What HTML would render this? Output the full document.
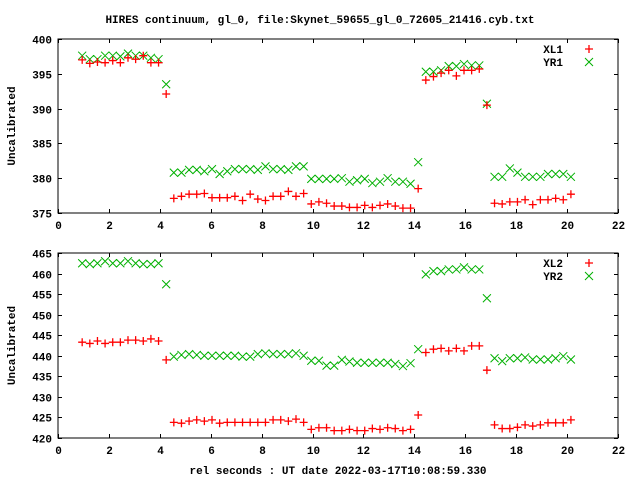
<!DOCTYPE html>
<html><head><meta charset="utf-8"><style>
html,body{margin:0;padding:0;background:#fff}
svg{display:block}
text{font-family:"Liberation Mono",monospace;font-size:11px;font-weight:bold;fill:#000}
</style></head><body>
<svg id="chart" width="640" height="480" xmlns="http://www.w3.org/2000/svg">
<text x="320" y="23" text-anchor="middle">HIRES continuum, gl_0, file:Skynet_59655_gl_0_72605_21416.cyb.txt</text>
<text x="338" y="474" text-anchor="middle">rel seconds : UT date 2022-03-17T10:08:59.330</text>
<g id="top"></g>
<g id="bot"></g>
</svg>
<script>
const xs=[0.95,1.25,1.55,1.85,2.15,2.45,2.75,3.05,3.35,3.65,3.95,4.25,4.55,4.85,5.15,5.45,5.75,6.05,6.35,6.65,6.95,7.25,7.55,7.85,8.15,8.45,8.75,9.05,9.35,9.65,9.95,10.25,10.55,10.85,11.15,11.45,11.75,12.05,12.35,12.65,12.95,13.25,13.55,13.85,14.15,14.45,14.75,15.05,15.35,15.65,15.95,16.25,16.55,16.85,17.15,17.45,17.75,18.05,18.35,18.65,18.95,19.25,19.55,19.85,20.15];
const xl1=[397.0,396.5,396.7,396.6,396.9,396.6,397.3,397.1,397.6,396.6,396.6,392.1,377.1,377.4,377.7,377.7,377.8,377.2,377.2,377.2,377.4,376.8,377.7,377.0,376.8,377.4,377.4,378.1,377.4,377.8,376.3,376.6,376.4,376.0,376.0,375.8,375.8,376.1,375.8,376.1,376.3,376.0,375.7,375.7,378.5,394.1,394.6,395.1,395.5,394.7,395.5,395.5,395.7,390.5,376.4,376.3,376.6,376.6,376.9,376.2,376.9,376.9,377.1,376.9,377.7];
const yr1=[397.6,397.1,397.1,397.6,397.6,397.5,397.9,397.6,397.6,397.3,397.1,393.5,380.8,380.8,381.2,381.2,381.0,381.3,380.6,381.0,381.3,381.3,381.3,381.2,381.7,381.3,381.3,381.2,381.7,381.7,379.9,379.9,379.9,379.9,380.0,379.5,379.7,379.9,379.3,379.5,380.0,379.5,379.5,379.2,382.3,395.3,395.3,395.5,396.1,396.1,396.4,396.2,396.2,390.7,380.2,380.2,381.4,380.8,380.2,380.2,380.2,380.6,380.6,380.6,380.2];
const xl2=[443.3,443.0,443.6,443.0,443.3,443.3,443.8,443.8,443.6,444.1,443.6,439.0,423.8,423.6,424.1,424.4,424.1,424.4,423.6,423.8,423.8,423.8,423.8,423.8,423.8,424.4,424.4,424.1,424.6,423.8,422.1,422.5,422.5,421.8,421.8,422.1,421.8,421.8,422.3,422.1,422.5,422.3,421.8,422.1,425.6,440.8,441.6,441.8,441.2,441.8,441.2,442.4,442.4,436.5,423.2,422.3,422.3,422.6,423.2,422.9,423.2,423.7,423.7,423.7,424.4];
const yr2=[462.5,462.3,462.5,463.0,462.5,462.5,463.0,462.5,462.3,462.3,462.5,457.4,439.8,440.2,440.4,440.2,440.0,440.0,440.0,440.0,440.0,439.8,439.8,440.4,440.6,440.4,440.4,440.4,440.6,440.0,438.8,438.8,437.6,437.6,439.0,438.6,438.3,438.3,438.3,438.3,438.3,438.0,437.5,438.2,441.6,459.8,460.6,460.6,461.0,461.0,461.5,461.0,461.0,454.0,439.4,438.7,439.4,439.4,439.6,439.1,439.1,439.1,439.4,439.9,439.1];
const xTicks=[0,2,4,6,8,10,12,14,16,18,20,22];
const topTicks=[375,380,385,390,395,400];
const botTicks=[420,425,430,435,440,445,450,455,460,465];
const NS="http://www.w3.org/2000/svg";
function mk(p,tag,at){const e=document.createElementNS(NS,tag);for(const k in at)e.setAttribute(k,at[k]);p.appendChild(e);return e;}
function panel(g,L,R,T,B,ymin,ymax,yt,sA,sB,nA,nB,legY,tag){
  const sx=v=>L+(v-0)/(22-0)*(R-L);
  const sy=v=>B-(v-ymin)/(ymax-ymin)*(B-T);
  const fr=mk(g,'rect',{x:L,y:T,width:R-L,height:B-T,fill:'none',stroke:'#000','stroke-width':1});
  
  
  xTicks.forEach(t=>{
    const x=Math.round(sx(t))+0.5;
    const l=mk(g,'path',{d:`M${x} ${B}v-4M${x} ${T}v4`,stroke:'#000','stroke-width':1});
    
    
    const tx=mk(g,'text',{x:x,y:B+16,'text-anchor':'middle'});tx.textContent=t;
    
    
  });
  yt.forEach(t=>{
    const y=Math.round(sy(t))+0.5;
    const l=mk(g,'path',{d:`M${L} ${y}h4M${R} ${y}h-4`,stroke:'#000','stroke-width':1});
    
    
    const tx=mk(g,'text',{x:L-6,y:y+4,'text-anchor':'end'});tx.textContent=t;
    
    
  });
  const yl=mk(g,'text',{x:0,y:0,'text-anchor':'middle',transform:`translate(15,${(T+B)/2}) rotate(-90)`});yl.textContent='Uncalibrated';
  
  
  const plus=(x,y)=>`M${x-4} ${y}h8M${x} ${y-4}v8`;
  const cross=(x,y)=>`M${x-4} ${y-4}l8 8M${x-4} ${y+4}l8 -8`;
  let dA='',dB='';
  xs.forEach((v,i)=>{dB+=cross(sx(v),sy(sB[i]));dA+=plus(sx(v),sy(sA[i]));});
  const pb=mk(g,'path',{d:dB,stroke:'#00b000','stroke-width':1,fill:'none'});
  
  
  const pa=mk(g,'path',{d:dA,stroke:'#ff0000','stroke-width':1.3,fill:'none'});
  
  
  const t1=mk(g,'text',{x:563,y:legY+4,'text-anchor':'end'});t1.textContent=nA;
  
  
  const t2=mk(g,'text',{x:563,y:legY+17,'text-anchor':'end'});t2.textContent=nB;
  
  
  const m1=mk(g,'path',{d:plus(589,legY),stroke:'#ff0000','stroke-width':1.3});
  
  
  const m2=mk(g,'path',{d:cross(589,legY+13),stroke:'#00b000','stroke-width':1});
  
  
}
panel(document.getElementById('top'),58,618,39,213,375,400,topTicks,xl1,yr1,'XL1','YR1',49,'top');
panel(document.getElementById('bot'),58,618,253,438,420,465,botTicks,xl2,yr2,'XL2','YR2',263,'bottom');
</script>
</body></html>
